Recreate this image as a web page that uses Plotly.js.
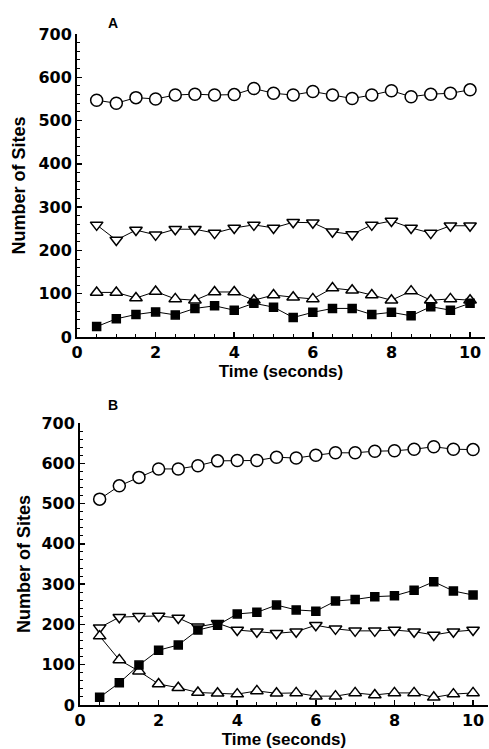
<!DOCTYPE html>
<html>
<head>
<meta charset="utf-8">
<script src="https://cdn.plot.ly/plotly-3.0.1.min.js"></script>
<style>html,body{margin:0;padding:0;background:#fff;}#chart{width:489px;height:749px;}</style>
</head>
<body>
<div id="chart"></div>
<script>
const time = [0.5,1,1.5,2,2.5,3,3.5,4,4.5,5,5.5,6,6.5,7,7.5,8,8.5,9,9.5,10];

// Panel A
const aCircle = [547,540,553,550,559,561,559,560,574,563,559,567,559,551,559,569,555,561,563,571];
const aDown   = [259,224,247,236,249,249,240,252,259,252,265,264,243,237,259,268,252,240,257,257];
const aUp     = [103,103,90,105,88,85,104,104,85,97,92,88,113,108,97,85,106,85,88,85];
const aSquare = [24,42,52,58,51,66,72,62,78,69,45,57,66,66,52,57,49,70,62,78];

// Panel B
const bCircle = [511,544,565,586,586,594,606,607,607,615,613,620,626,626,630,631,635,641,635,634];
const bDown   = [192,218,220,221,216,194,203,186,182,178,182,198,189,184,184,186,182,174,182,186];
const bUp     = [171,112,84,52,43,31,29,27,35,29,30,22,22,30,25,30,30,19,27,30];
const bSquare = [19,55,99,136,149,186,198,226,230,248,236,233,258,262,269,271,285,306,283,273];

const xTickVals = [0,2,4,6,8,10];
const yTickVals = [0,100,200,300,400,500,600,700];
const xTitle = "Time (seconds)";
const yTitle = "Number of Sites";

const F = "Liberation Sans, Arial, Helvetica, sans-serif";
const FT = "DejaVu Sans, Verdana, sans-serif";
const lineStyle = {color:'#000', width:1};

function mk(x, y, sym, size, xa, ya, filled){
  return {
    x:x, y:y, xaxis:xa, yaxis:ya, type:'scatter', mode:'lines+markers',
    line:lineStyle, showlegend:false, cliponaxis:false,
    marker:{symbol:sym, size:size, color: filled ? '#000' : '#fff', line:{color:'#000', width:1.5}}
  };
}

const traces = [
  mk(time, aCircle, 'circle', 12, 'x', 'y', false),
  mk(time, aDown, 'triangle-down', 11, 'x', 'y', false),
  mk(time, aUp, 'triangle-up', 11, 'x', 'y', false),
  mk(time, aSquare, 'square', 8, 'x', 'y', true),
  mk(time, bCircle, 'circle', 12, 'x2', 'y2', false),
  mk(time, bDown, 'triangle-down', 11, 'x2', 'y2', false),
  mk(time, bUp, 'triangle-up', 11, 'x2', 'y2', false),
  mk(time, bSquare, 'square', 8, 'x2', 'y2', true)
];

function xax(domain, anchor){
  return {
    domain:domain, anchor:anchor, range:[0,10.38], tickvals:xTickVals,
    showgrid:false, zeroline:false, showline:true, linecolor:'#000', linewidth:2,
    ticks:'inside', ticklen:5, tickwidth:1.5, tickcolor:'#000',
    minor:{dtick:0.5, ticks:'inside', ticklen:3, tickwidth:1, tickcolor:'#000'},
    tickfont:{family:FT, size:16, color:'#000', weight:'bold'},
    title:{text:xTitle, font:{family:F, size:17, color:'#000', weight:'bold'}, standoff:3},
    automargin:false
  };
}
function yax(domain, anchor, standoff){
  return {
    domain:domain, anchor:anchor, range:[0,700], tickvals:yTickVals,
    showgrid:false, zeroline:false, showline:true, linecolor:'#000', linewidth:2,
    ticks:'inside', ticklen:5, tickwidth:1.5, tickcolor:'#000',
    minor:{dtick:20, ticks:'inside', ticklen:3, tickwidth:1, tickcolor:'#000'},
    tickfont:{family:FT, size:16, color:'#000', weight:'bold'},
    title:{text:yTitle, font:{family:F, size:18, color:'#000', weight:'bold'}, standoff:standoff},
    automargin:false
  };
}

const layout = {
  width:489, height:749,
  margin:{l:0, r:0, t:0, b:0},
  paper_bgcolor:'#fff', plot_bgcolor:'#fff',
  xaxis: xax([77/489, 485/489], 'y'),
  yaxis: yax([(749-337)/749, (749-34)/749], 'x', 8),
  xaxis2: xax([80/489, 488/489], 'y2'),
  yaxis2: yax([(749-705)/749, (749-423)/749], 'x2', 6),
  annotations:[
    {text:'A', xref:'paper', yref:'paper', x:113/489, y:(749-23)/749, showarrow:false,
     font:{family:F, size:14, color:'#000', weight:'bold'}, xanchor:'center', yanchor:'middle'},
    {text:'B', xref:'paper', yref:'paper', x:113/489, y:(749-405)/749, showarrow:false,
     font:{family:F, size:14, color:'#000', weight:'bold'}, xanchor:'center', yanchor:'middle'}
  ]
};

Plotly.newPlot('chart', traces, layout, {staticPlot:true, displayModeBar:false});
</script>
</body>
</html>
